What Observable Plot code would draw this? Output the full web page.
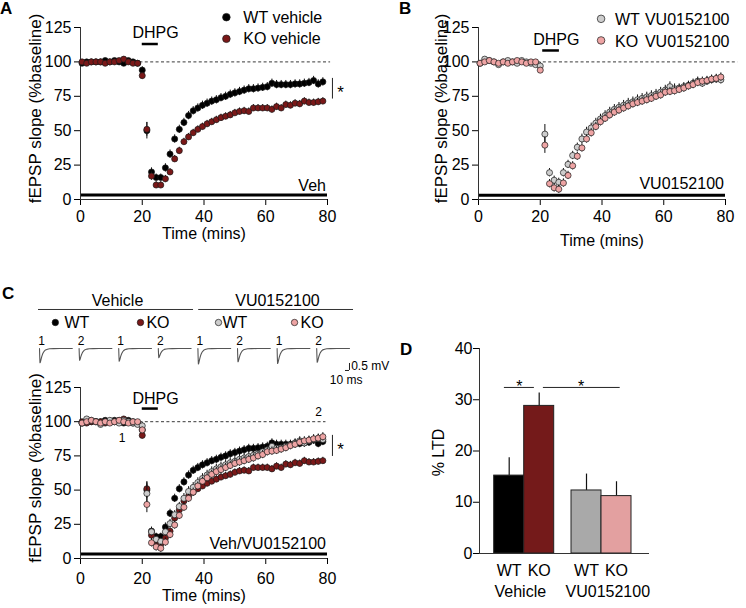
<!DOCTYPE html>
<html><head><meta charset="utf-8">
<script src="https://cdn.jsdelivr.net/npm/d3@7"></script>
<script src="https://cdn.jsdelivr.net/npm/@observablehq/plot@0.6"></script>
<style>
body{margin:0;background:#fff;}
#root{position:relative;width:746px;height:608px;overflow:hidden;background:#fff;font-family:"Liberation Sans",Arial,Helvetica,sans-serif;}
#root svg{position:absolute;overflow:visible;}
.lab{position:absolute;font-weight:bold;font-size:17px;line-height:17px;color:#000;}
</style></head><body><div id="root"></div>
<script>
// ---------- data ----------
const seriesNames = ["WT vehicle", "KO vehicle", "WT VU0152100", "KO VU0152100"];
const dotColors = ["#000000", "#7a1818", "#cdcdcd", "#eea4a4"];

const times = [0.5,2,3.5,5,6.5,8,9.5,11,12.5,14,15.5,17,18.5,
  20,21.5,23,24.5,26,27.5,29,30.5,32,33.5,
  35,36.5,38,39.5,41,42.5,44,45.5,47,48.5,
  50,51.5,53,54.5,56,57.5,59,60.5,62,63.5,
  65,66.5,68,69.5,71,72.5,74,75.5,77,78.5];

const wtVehicle = [99,100,100,100,100,101,100,101,100,99,101,100,99,
  94,50,20,16,16,23,33,44,51,56,
  61,64.5,66.5,68.5,70,71.5,72.5,74,75,76.5,
  77.5,78.5,79.5,80.5,80.5,81,81.5,82,84.5,83.5,
  83.5,83.5,83.5,84,84,84.5,85,86.5,84,85.5];
const wtVehicleSem = [1.5,1.5,1.5,1.5,1.5,1.5,1.5,1.5,1.5,1.5,1.5,1.5,1.5,
  2.5,6,3,2.5,2.5,3,3,3,3,3,
  3,3,3,3,3,3,3,3,3,3,
  3,3,3,3,3,3,3,3,3,3,
  3,3,3,3,3,3,3,3,3,3];

const koVehicle = [100,99,100,100,100,99,100,100,101,102,100,99,99,
  90,51,17,10.5,10.5,15,20,29.5,35.5,42,
  45.5,48.5,51,53,55,56.5,58,59.5,60.5,61.5,
  63,64,64.5,64,66.5,66.5,66.5,66.5,65.5,67.5,
  66.5,69,68.5,70,69.5,71.5,70.5,70.5,71,71.5];
const koVehicleSem = [1.2,1.2,1.2,1.2,1.2,1.2,1.2,1.2,1.2,1.2,1.2,1.2,1.2,
  2.5,5,3,2.5,2.5,2.5,2.5,2.5,2.5,2.5,
  2.5,2.5,2.5,2.5,2.5,2.5,2.5,2.5,2.5,2.5,
  2.5,2.5,2.5,2.5,2.5,2.5,2.5,2.5,2.5,2.5,
  2.5,2.5,2.5,2.5,2.5,2.5,2.5,2.5,2.5,2.5];

const wtVu = [99,102,101,100,98,100,101,100,99,101,100,99,98,
  97,47.5,19.5,14,12.5,19.5,25.5,32,38,44,
  49,52,55.5,58.5,61,63.5,65.5,67,68.5,70,
  71,72.5,73.5,74.5,75.5,76.5,78,79.5,82,80.5,
  81,82,83,84.5,86,84.5,86,87,87.5,87];
const wtVuSem = [1.5,1.5,1.5,1.5,1.5,1.5,1.5,1.5,1.5,1.5,1.5,1.5,1.5,
  2.5,7,3,3,3,3,3,3,3,3.5,
  3.5,3.5,3.5,3.5,3.5,3.5,3.5,3.5,3.5,3.5,
  3.5,3.5,3.5,3.5,3.5,3.5,3.5,3.5,3.5,3.5,
  3,3,3,3,3,3,3,3,3,3];

const koVu = [99,100,101,100,99,100,99,100,101,100,99,100,100,
  94,39.5,11.5,8.5,7.5,12,17.5,24.5,31.5,37.5,
  44,48.5,53,56.5,59,61.5,63.5,65,66.5,68,
  69.5,70.5,71.5,72.5,73.5,75,76,78,78.5,79,
  80,81,82.5,83.5,85,86,86.5,87.5,88,89];
const koVuSem = [1.2,1.2,1.2,1.2,1.2,1.2,1.2,1.2,1.2,1.2,1.2,1.2,1.2,
  2,6,3,3,3,3,3,3,3,3,
  3,3,3,3,3,3,3,3,3,3,
  3,3,3,3,3,3,3,3,3,3,
  3,3,3,3,3,3,3,3,3,3];

const xTicks = [0, 20, 40, 60, 80];
const yTicks = [0, 25, 50, 75, 100, 125];

// example traces (panel C): normalized waveform and per-trace amplitude (mV)
const traceMs = [0, 0.6, 1.2, 2, 3, 4, 5, 6, 8, 10, 12, 15, 20, 25, 35, 50, 82];
const traceShape = [0, -0.6, -1, -0.97, -0.86, -0.74, -0.63, -0.53, -0.37, -0.26, -0.18, -0.1, -0.05, -0.02, -0.01, 0, 0];
const traceLabels = ["1", "2", "1", "2", "1", "2", "1", "2"];
const traceAmp = [1.02, 0.84, 0.9, 0.65, 1.1, 0.95, 1.07, 0.98];
const traceGroups = ["Vehicle", "VU0152100"];
const traceLegend = ["WT", "KO", "WT", "KO"];

// panel D
const ltdGroup = ["Vehicle", "Vehicle", "VU0152100", "VU0152100"];
const ltdGenotype = ["WT", "KO", "WT", "KO"];
const ltdMean = [15.2, 28.8, 12.3, 11.2];
const ltdSem = [3.5, 2.5, 3.2, 2.8];
const barColors = ["#000000", "#741a1a", "#a9a9a9", "#e3a0a0"];
const ltdTicks = [0, 10, 20, 30, 40];

// ---------- helpers ----------
const FONT = '"Liberation Sans", Arial, Helvetica, sans-serif';
const root = document.getElementById("root");
function place(el, left, top) { el.style.left = left + "px"; el.style.top = top + "px"; root.appendChild(el); }
const colorScale = {domain: seriesNames, range: dotColors};
const baseStyle = {fontFamily: FONT, fontSize: "16px", color: "#000", background: "transparent", overflow: "visible"};

function seriesMarks(name, values, sem) {
  const rows = times.map((t, i) => ({t, v: values[i], e: sem[i], name}));
  return [
    Plot.ruleX(rows, {x: "t", y1: d => d.v - d.e, y2: d => d.v + d.e, stroke: "#111", strokeWidth: 1}),
    Plot.dot(rows, {x: "t", y: "v", r: 3.05, fill: "name", stroke: "#1a1a1a", strokeWidth: 0.7})
  ];
}

function timeCourse(cfg) {
  const marks = [
    Plot.ruleY([100], {x1: 0, x2: cfg.dashEnd, stroke: "#222", strokeWidth: 0.9, strokeDasharray: "3,2.4"}),
    Plot.ruleY([cfg.barY], {x1: 0, x2: 80, stroke: "#000", strokeWidth: 3}),
    Plot.ruleX([0], {y1: 0, y2: 125, stroke: "#333", strokeWidth: 1}),
    Plot.ruleY([0], {x1: 0, x2: 80, stroke: "#333", strokeWidth: 1}),
    Plot.text([cfg.drugLabel], {x: 79.5, y: cfg.drugLabelY, textAnchor: "end", lineAnchor: "bottom", fontSize: 16}),
    Plot.ruleY([cfg.dhpg.barY], {x1: cfg.dhpg.x1, x2: cfg.dhpg.x2, stroke: "#000", strokeWidth: 2.5}),
    Plot.text(["DHPG"], {x: cfg.dhpg.textX, y: cfg.dhpg.textY, lineAnchor: "bottom", fontSize: 16}),
    Plot.text(["fEPSP slope (%baseline)"], {frameAnchor: "left", textAnchor: "middle", dx: cfg.yLabelDx, dy: -5, rotate: -90, fontSize: 17}),
    Plot.text(["Time (mins)"], {frameAnchor: "bottom", dy: cfg.xLabelDy, lineAnchor: "bottom", fontSize: 16})
  ];
  for (const s of cfg.series) marks.push(...seriesMarks(s[0], s[1], s[2]));
  if (cfg.extra) marks.push(...cfg.extra);
  return Plot.plot({
    width: cfg.width, height: cfg.height,
    marginLeft: cfg.ml, marginRight: cfg.mr, marginTop: cfg.mt, marginBottom: cfg.mb,
    style: baseStyle,
    x: {domain: [0, 80], ticks: xTicks, tickSize: 6, tickPadding: cfg.xPad, label: null},
    y: {domain: [0, 125], ticks: yTicks, tickSize: 6, tickPadding: 3, label: null},
    color: colorScale,
    marks
  });
}

// ---------- panel A ----------
const legA = ["WT vehicle", "KO vehicle"];
const plotA = timeCourse({
  width: 373, height: 245, ml: 80, mr: 46, mt: 27, mb: 46, xPad: 5,
  dashEnd: 81, barY: 3.3, drugLabel: "Veh", drugLabelY: 6,
  dhpg: {x1: 20, x2: 25.2, barY: 113, textX: 24.3, textY: 117.6},
  yLabelDx: -44.5, xLabelDy: 39.5,
  series: [[seriesNames[0], wtVehicle, wtVehicleSem], [seriesNames[1], koVehicle, koVehicleSem]],
  extra: [
    Plot.ruleX([81.6], {y1: 73, y2: 88, stroke: "#222", strokeWidth: 1}),
    Plot.text(["*"], {x: 84.2, y: 73.8, lineAnchor: "bottom", fontSize: 17}),
    Plot.dot(legA, {x: 47.25, y: (d, i) => [132.5, 116.8][i], r: 3.8, fill: d => d, stroke: "#1a1a1a", strokeWidth: 0.7}),
    Plot.text(legA, {x: 52.75, y: (d, i) => [128.1, 113.2][i], textAnchor: "start", lineAnchor: "bottom", fontSize: 16})
  ]
});
place(plotA, 0, 0);

// ---------- panel B ----------
const legB = ["WT VU0152100", "KO VU0152100"];
const plotB = timeCourse({
  width: 373, height: 245, ml: 105, mr: 21, mt: 27, mb: 46, xPad: 5,
  dashEnd: 84, barY: 3.1, drugLabel: "VU0152100", drugLabelY: 7.8,
  dhpg: {x1: 20.8, x2: 26.2, barY: 108.3, textX: 25.2, textY: 112},
  yLabelDx: -37, xLabelDy: 46,
  series: [[seriesNames[2], wtVu, wtVuSem], [seriesNames[3], koVu, koVuSem]],
  extra: [
    Plot.dot(legB, {x: 39.7, y: (d, i) => [131.3, 115.6][i], r: 3.8, fill: d => d, stroke: "#1a1a1a", strokeWidth: 0.7}),
    Plot.text(legB, {x: 44.2, y: (d, i) => [126.5, 110.7][i], text: d => d.split(" ")[0], textAnchor: "start", lineAnchor: "bottom", fontSize: 16}),
    Plot.text(legB, {x: 53.9, y: (d, i) => [126.5, 110.7][i], text: d => d.split(" ")[1], textAnchor: "start", lineAnchor: "bottom", fontSize: 16})
  ]
});
place(plotB, 373, 0);

// ---------- panel C traces + header ----------
const MS_PER_SLOT = 99;
const traceRows = [];
traceAmp.forEach((amp, k) => traceMs.forEach((ms, j) => traceRows.push({k, x: k + ms / MS_PER_SLOT, y: amp * traceShape[j]})));
const plotTr = Plot.plot({
  width: 420, height: 105, marginLeft: 39, marginRight: 47, marginTop: 0, marginBottom: 0,
  style: baseStyle,
  x: {domain: [0, 8.4343], axis: null},
  y: {domain: [-3, 4.5], axis: null},
  color: colorScale,
  marks: [
    Plot.line(traceRows, {x: "x", y: "y", z: "k", stroke: "#555", strokeWidth: 1.1}),
    Plot.text(traceLabels, {x: (d, i) => i + 0.05, y: 0.25, lineAnchor: "bottom", fontSize: 12}),
    Plot.ruleY([2.786], {x1: -0.025, x2: 3.89, stroke: "#333", strokeWidth: 1}),
    Plot.ruleY([2.786], {x1: 4.02, x2: 7.93, stroke: "#333", strokeWidth: 1}),
    Plot.text(traceGroups, {x: (d, i) => [1.97, 6.01][i], y: 3.07, lineAnchor: "bottom", fontSize: 16}),
    Plot.dot(traceLegend, {x: (d, i) => [0.40, 2.55, 4.52, 6.44][i], y: 1.857, r: 3.2, fill: (d, i) => seriesNames[i], stroke: "#1a1a1a", strokeWidth: 0.7}),
    Plot.text(traceLegend, {x: (d, i) => [0.63, 2.70, 4.62, 6.59][i], y: 1.5, textAnchor: "start", lineAnchor: "bottom", fontSize: 16}),
    Plot.ruleX([7.828], {y1: -1.07, y2: -1.57, stroke: "#222", strokeWidth: 1}),
    Plot.ruleY([-1.57], {x1: 7.727, x2: 7.828, stroke: "#222", strokeWidth: 1}),
    Plot.text(["0.5 mV"], {x: 7.87, y: -1.57, textAnchor: "start", lineAnchor: "bottom", fontSize: 12}),
    Plot.text(["10 ms"], {x: 8.157, y: -2.5, textAnchor: "end", lineAnchor: "bottom", fontSize: 12})
  ]
});
place(plotTr, 0, 285);

// ---------- panel C time course ----------
const plotC = timeCourse({
  width: 373, height: 238, ml: 80, mr: 46, mt: 17, mb: 50, xPad: 8,
  dashEnd: 79.5, barY: 3.3, drugLabel: "Veh/VU0152100", drugLabelY: 7.1,
  dhpg: {x1: 20, x2: 25.2, barY: 109.6, textX: 24.3, textY: 113.3},
  yLabelDx: -44.5, xLabelDy: 42,
  series: [[seriesNames[0], wtVehicle, wtVehicleSem], [seriesNames[1], koVehicle, koVehicleSem],
           [seriesNames[2], wtVu, wtVuSem], [seriesNames[3], koVu, koVuSem]],
  extra: [
    Plot.ruleX([81.6], {y1: 74.6, y2: 90, stroke: "#222", strokeWidth: 1}),
    Plot.text(["*"], {x: 84.2, y: 75.4, lineAnchor: "bottom", fontSize: 17}),
    Plot.text(["1"], {x: 13.5, y: 85, lineAnchor: "bottom", fontSize: 12}),
    Plot.text(["2"], {x: 77.1, y: 104.5, lineAnchor: "bottom", fontSize: 12})
  ]
});
place(plotC, 0, 370);

// ---------- panel D ----------
const GROUP_GAP = 0.577;
const groupOrder = ["Vehicle", "VU0152100"];
const genoOrder = ["WT", "KO"];
const barLeft = i => groupOrder.indexOf(ltdGroup[i]) * (2 + GROUP_GAP) + genoOrder.indexOf(ltdGenotype[i]);
const ltdRows = ltdMean.map((v, i) => ({i, v, e: ltdSem[i], x1: barLeft(i), x2: barLeft(i) + 1, c: barColors[i]}));
const plotD = Plot.plot({
  width: 373, height: 278, marginLeft: 106, marginRight: 97, marginTop: 18, marginBottom: 55,
  style: baseStyle,
  x: {domain: [-0.49, 5.177], axis: null},
  y: {domain: [0, 40], ticks: ltdTicks, tickSize: 6, tickPadding: 1, label: null},
  marks: [
    Plot.ruleX(ltdRows, {x: d => d.x1 + 0.5, y1: "v", y2: d => d.v + d.e, stroke: "#111", strokeWidth: 1.2}),
    Plot.rectY(ltdRows, {x1: "x1", x2: "x2", y: "v", fill: d => d.c, stroke: "#222", strokeWidth: 1}),
    Plot.ruleX([-0.49], {y1: 0, y2: 40, stroke: "#333", strokeWidth: 1}),
    Plot.ruleY([0], {x1: -0.49, x2: 5.177, stroke: "#333", strokeWidth: 1}),
    Plot.ruleY([32.4], {x1: 0.34, x2: 1.34, stroke: "#222", strokeWidth: 1}),
    Plot.ruleY([32.4], {x1: 1.64, x2: 4.2, stroke: "#222", strokeWidth: 1}),
    Plot.text(["*", "*"], {x: (d, i) => [0.84, 2.9][i], y: 31.5, lineAnchor: "bottom", fontSize: 16}),
    Plot.text(ltdRows, {x: d => d.x1 + 0.5, text: d => ltdGenotype[d.i], frameAnchor: "bottom", dy: 22, lineAnchor: "bottom", fontSize: 16}),
    Plot.text(groupOrder, {x: (d, i) => i * (2 + GROUP_GAP) + [0.87, 1.21][i], frameAnchor: "bottom", dy: 43.7, lineAnchor: "bottom", fontSize: 16}),
    Plot.text(["% LTD"], {frameAnchor: "left", textAnchor: "middle", dx: -41, dy: 1.5, rotate: -90, fontSize: 16})
  ]
});
place(plotD, 373, 330);

// ---------- panel letters ----------
[["A", 0, 0], ["B", 399, 0], ["C", 2, 285], ["D", 400, 341]].forEach(([t, x, y]) => {
  const d = document.createElement("div");
  d.className = "lab"; d.textContent = t; d.style.left = x + "px"; d.style.top = y + "px";
  root.appendChild(d);
});
</script>
</body></html>
